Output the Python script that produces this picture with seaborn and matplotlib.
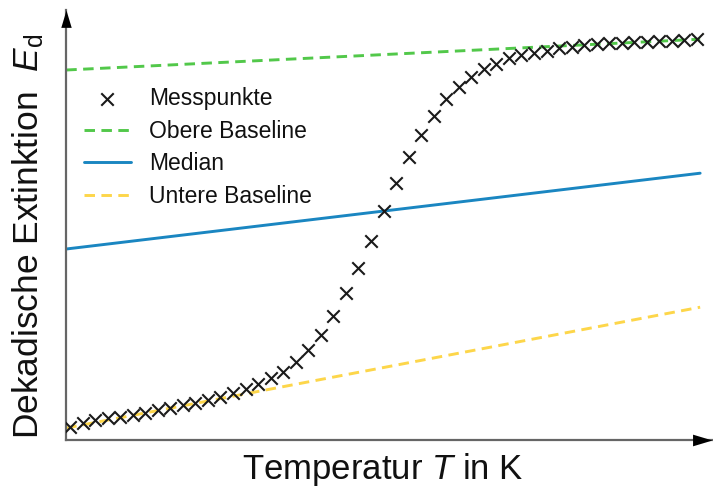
import numpy as np
import pandas as pd
import matplotlib
matplotlib.use("Agg")
import matplotlib.pyplot as plt
import seaborn as sns

# Measured extinction values (arbitrary units) at equally spaced temperatures
temperatur = [300 + 2 * i for i in range(51)]
extinktion = [
    0.033, 0.042, 0.050, 0.055, 0.058, 0.0625, 0.068, 0.075, 0.081, 0.0875,
    0.093, 0.100, 0.108, 0.117, 0.127, 0.140, 0.154, 0.171, 0.196, 0.225,
    0.2625, 0.310, 0.367, 0.429, 0.498, 0.573, 0.643, 0.708, 0.7625, 0.810,
    0.852, 0.882, 0.907, 0.927, 0.940, 0.954, 0.9625, 0.968, 0.973, 0.979,
    0.983, 0.9875, 0.990, 0.992, 0.993, 0.995, 0.996, 0.9975, 0.998, 1.000,
    1.002,
]

# Baselines and median line, given by their end points
t_linie = [299.4, 400.5]
obere_baseline = [0.925, 1.002]
median = [0.4775, 0.667]
untere_baseline = [0.030, 0.332]

sns.set_theme(style="white")
plt.rcParams["font.family"] = ["Liberation Sans", "DejaVu Sans"]
plt.rcParams["mathtext.fontset"] = "custom"
plt.rcParams["mathtext.rm"] = "Liberation Sans"
plt.rcParams["mathtext.it"] = "Liberation Sans:italic"

W, H = 713, 491
fig = plt.figure(figsize=(W / 100, H / 100), dpi=100)
ax_l, ax_r, ax_t, ax_b = 66, 712, 10, 440
ax = fig.add_axes([ax_l / W, (H - ax_b) / H, (ax_r - ax_l) / W, (ax_b - ax_t) / H])

messung = pd.DataFrame({"T": temperatur, "E": extinktion})
linien = pd.DataFrame({"T": t_linie, "oben": obere_baseline,
                       "median": median, "unten": untere_baseline})

sns.lineplot(data=linien, x="T", y="oben", ax=ax, color="#52c84a", lw=2.1,
             linestyle="--", label="Obere Baseline", zorder=2)
sns.lineplot(data=linien, x="T", y="median", ax=ax, color="#1a86c1", lw=2.1,
             label="Median", zorder=2)
sns.lineplot(data=linien, x="T", y="unten", ax=ax, color="#fdd64a", lw=2.1,
             linestyle="--", label="Untere Baseline", zorder=2)
for ln in ax.get_lines():
    if ln.get_linestyle() == "--":
        ln.set_dashes((3.6, 2.2))

sns.scatterplot(data=messung, x="T", y="E", ax=ax, marker="x", s=80,
                color="#1a1a1a", linewidth=1.5, label="Messpunkte", zorder=3)

# Axis ranges: no ticks, just the arrowed axes
ax.set_xlim(299.362, 402.39)
ax.set_ylim(0, 1.075)
ax.set_xticks([])
ax.set_yticks([])
for s in ("top", "right"):
    ax.spines[s].set_visible(False)
for s in ("left", "bottom"):
    ax.spines[s].set_color("#666666")
    ax.spines[s].set_linewidth(1.6)

tri_r = [(0, 0), (-1.4, 0.42), (-1.4, -0.42), (0, 0)]
tri_u = [(0, 0), (0.42, -1.4), (-0.42, -1.4), (0, 0)]
ax.plot(1, 0, marker=tri_r, ms=28, color="black", mew=0,
        transform=ax.transAxes, clip_on=False, zorder=5)
ax.plot(0, 1, marker=tri_u, ms=25, color="black", mew=0,
        transform=ax.transAxes, clip_on=False, zorder=5)

ax.set_xlabel("Temperatur $\\mathit{T}$ in K", fontsize=25, color="#111111")
ax.set_ylabel("Dekadische Extinktion  $\\mathit{E}_\\mathrm{d}$", fontsize=25.5,
              color="#111111")
ax.xaxis.set_label_coords((383 - ax_l) / (ax_r - ax_l), -(483 - ax_b + 5) / (ax_b - ax_t),
                          transform=ax.transAxes)
ax.yaxis.set_label_coords(-(ax_l - 46) / (ax_r - ax_l), (ax_b - 236) / (ax_b - ax_t),
                          transform=ax.transAxes)
ax.xaxis.label.set_verticalalignment("bottom")

handles, labels = ax.get_legend_handles_labels()
order = [labels.index(n) for n in ["Messpunkte", "Obere Baseline", "Median", "Untere Baseline"]]
leg = ax.legend([handles[i] for i in order], [labels[i] for i in order],
                loc="upper left", bbox_to_anchor=(84 / W, (H - 87) / H),
                bbox_transform=fig.transFigure, frameon=False, fontsize=16.5,
                handlelength=2.05, handletextpad=0.8, labelspacing=0.42,
                borderpad=0, borderaxespad=0)
for t in leg.get_texts():
    t.set_color("#111111")

fig.savefig("out.png", dpi=100)
